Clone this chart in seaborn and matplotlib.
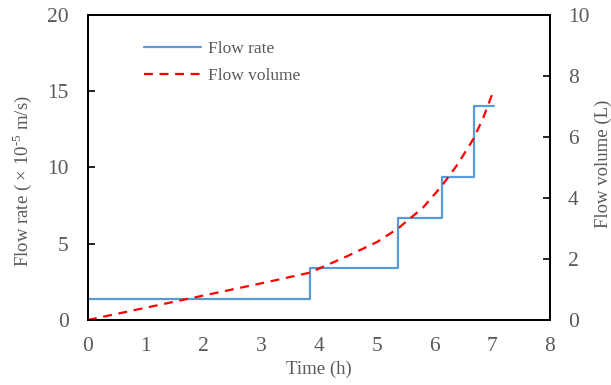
import numpy as np
import pandas as pd
import matplotlib
matplotlib.use('Agg')
import matplotlib.pyplot as plt
import seaborn as sns

# flow rate steps (x10^-5 m/s)
step_time = [0, 3.84, 5.37, 6.13, 6.68, 7.04]
step_rate = [1.37, 3.42, 6.70, 9.40, 14.03, 14.03]

# cumulative flow volume (L)
vol_time = [0, 1, 2, 3, 3.84, 4.5, 5.0, 5.37, 5.8, 6.13, 6.4, 6.68, 6.85, 7.02]
vol_value = [0, 0.4, 0.8, 1.2, 1.55, 2.1, 2.55, 3.0, 3.68, 4.4, 5.1, 5.95, 6.65, 7.5]

sns.set_style('white')
plt.rcParams['font.family'] = ['Liberation Serif', 'DejaVu Serif']
plt.rcParams['mathtext.fontset'] = 'custom'
plt.rcParams['mathtext.rm'] = 'Liberation Serif'
grey = '#595959'

fig = plt.figure(figsize=(6.11, 3.85), dpi=100)
ax = fig.add_axes([0.144, 0.169, 0.756, 0.792])
ax2 = ax.twinx()

rate_df = pd.DataFrame({'t': step_time, 'q': step_rate})
vol_df = pd.DataFrame({'t': vol_time, 'v': vol_value})

sns.lineplot(data=rate_df, x='t', y='q', ax=ax, drawstyle='steps-post',
             color='#5B9BD5', linewidth=1.6, label='Flow rate', legend=False)
sns.lineplot(data=vol_df, x='t', y='v', ax=ax2, color='#FF0000',
             linewidth=1.6, linestyle=(0, (4, 3)), label='Flow volume', legend=False)

ax.set_xlim(0, 8)
ax.set_ylim(0, 20)
ax2.set_ylim(0, 10)
ax.set_xticks(range(0, 9))
ax.set_yticks([0, 5, 10, 15, 20])
ax2.set_yticks([0, 2, 4, 6, 8, 10])

ax.set_xlabel('Time (h)', fontsize=13.5, color=grey, labelpad=4)
ax.set_ylabel('Flow rate ( \u00d7 10$^{\\mathrm{\u2010}5}$ m/s)', fontsize=13.5, color=grey)
ax2.set_ylabel('Flow volume (L)', fontsize=13.5, color=grey)
ax.yaxis.set_label_coords(-0.117, 0.456)
ax2.yaxis.set_label_coords(1.097, 0.513)

for a in (ax, ax2):
    a.tick_params(direction='in', length=5, width=1.2, labelsize=15.5,
                  labelcolor=grey, colors='black', pad=13)
    for s in a.spines.values():
        s.set_color('black')
        s.set_linewidth(1.3)
ax.tick_params(axis='x', labelcolor=grey, pad=12)
ax.tick_params(axis='y', pad=14)

h1, l1 = ax.get_legend_handles_labels()
h2, l2 = ax2.get_legend_handles_labels()
leg = ax.legend(h1 + h2, l1 + l2, loc='upper left', bbox_to_anchor=(0.087, 0.965),
                frameon=False, fontsize=12.5, handlelength=3.3, handletextpad=0.4,
                labelspacing=0.62, labelcolor=grey)

fig.savefig('out.png', dpi=100)
